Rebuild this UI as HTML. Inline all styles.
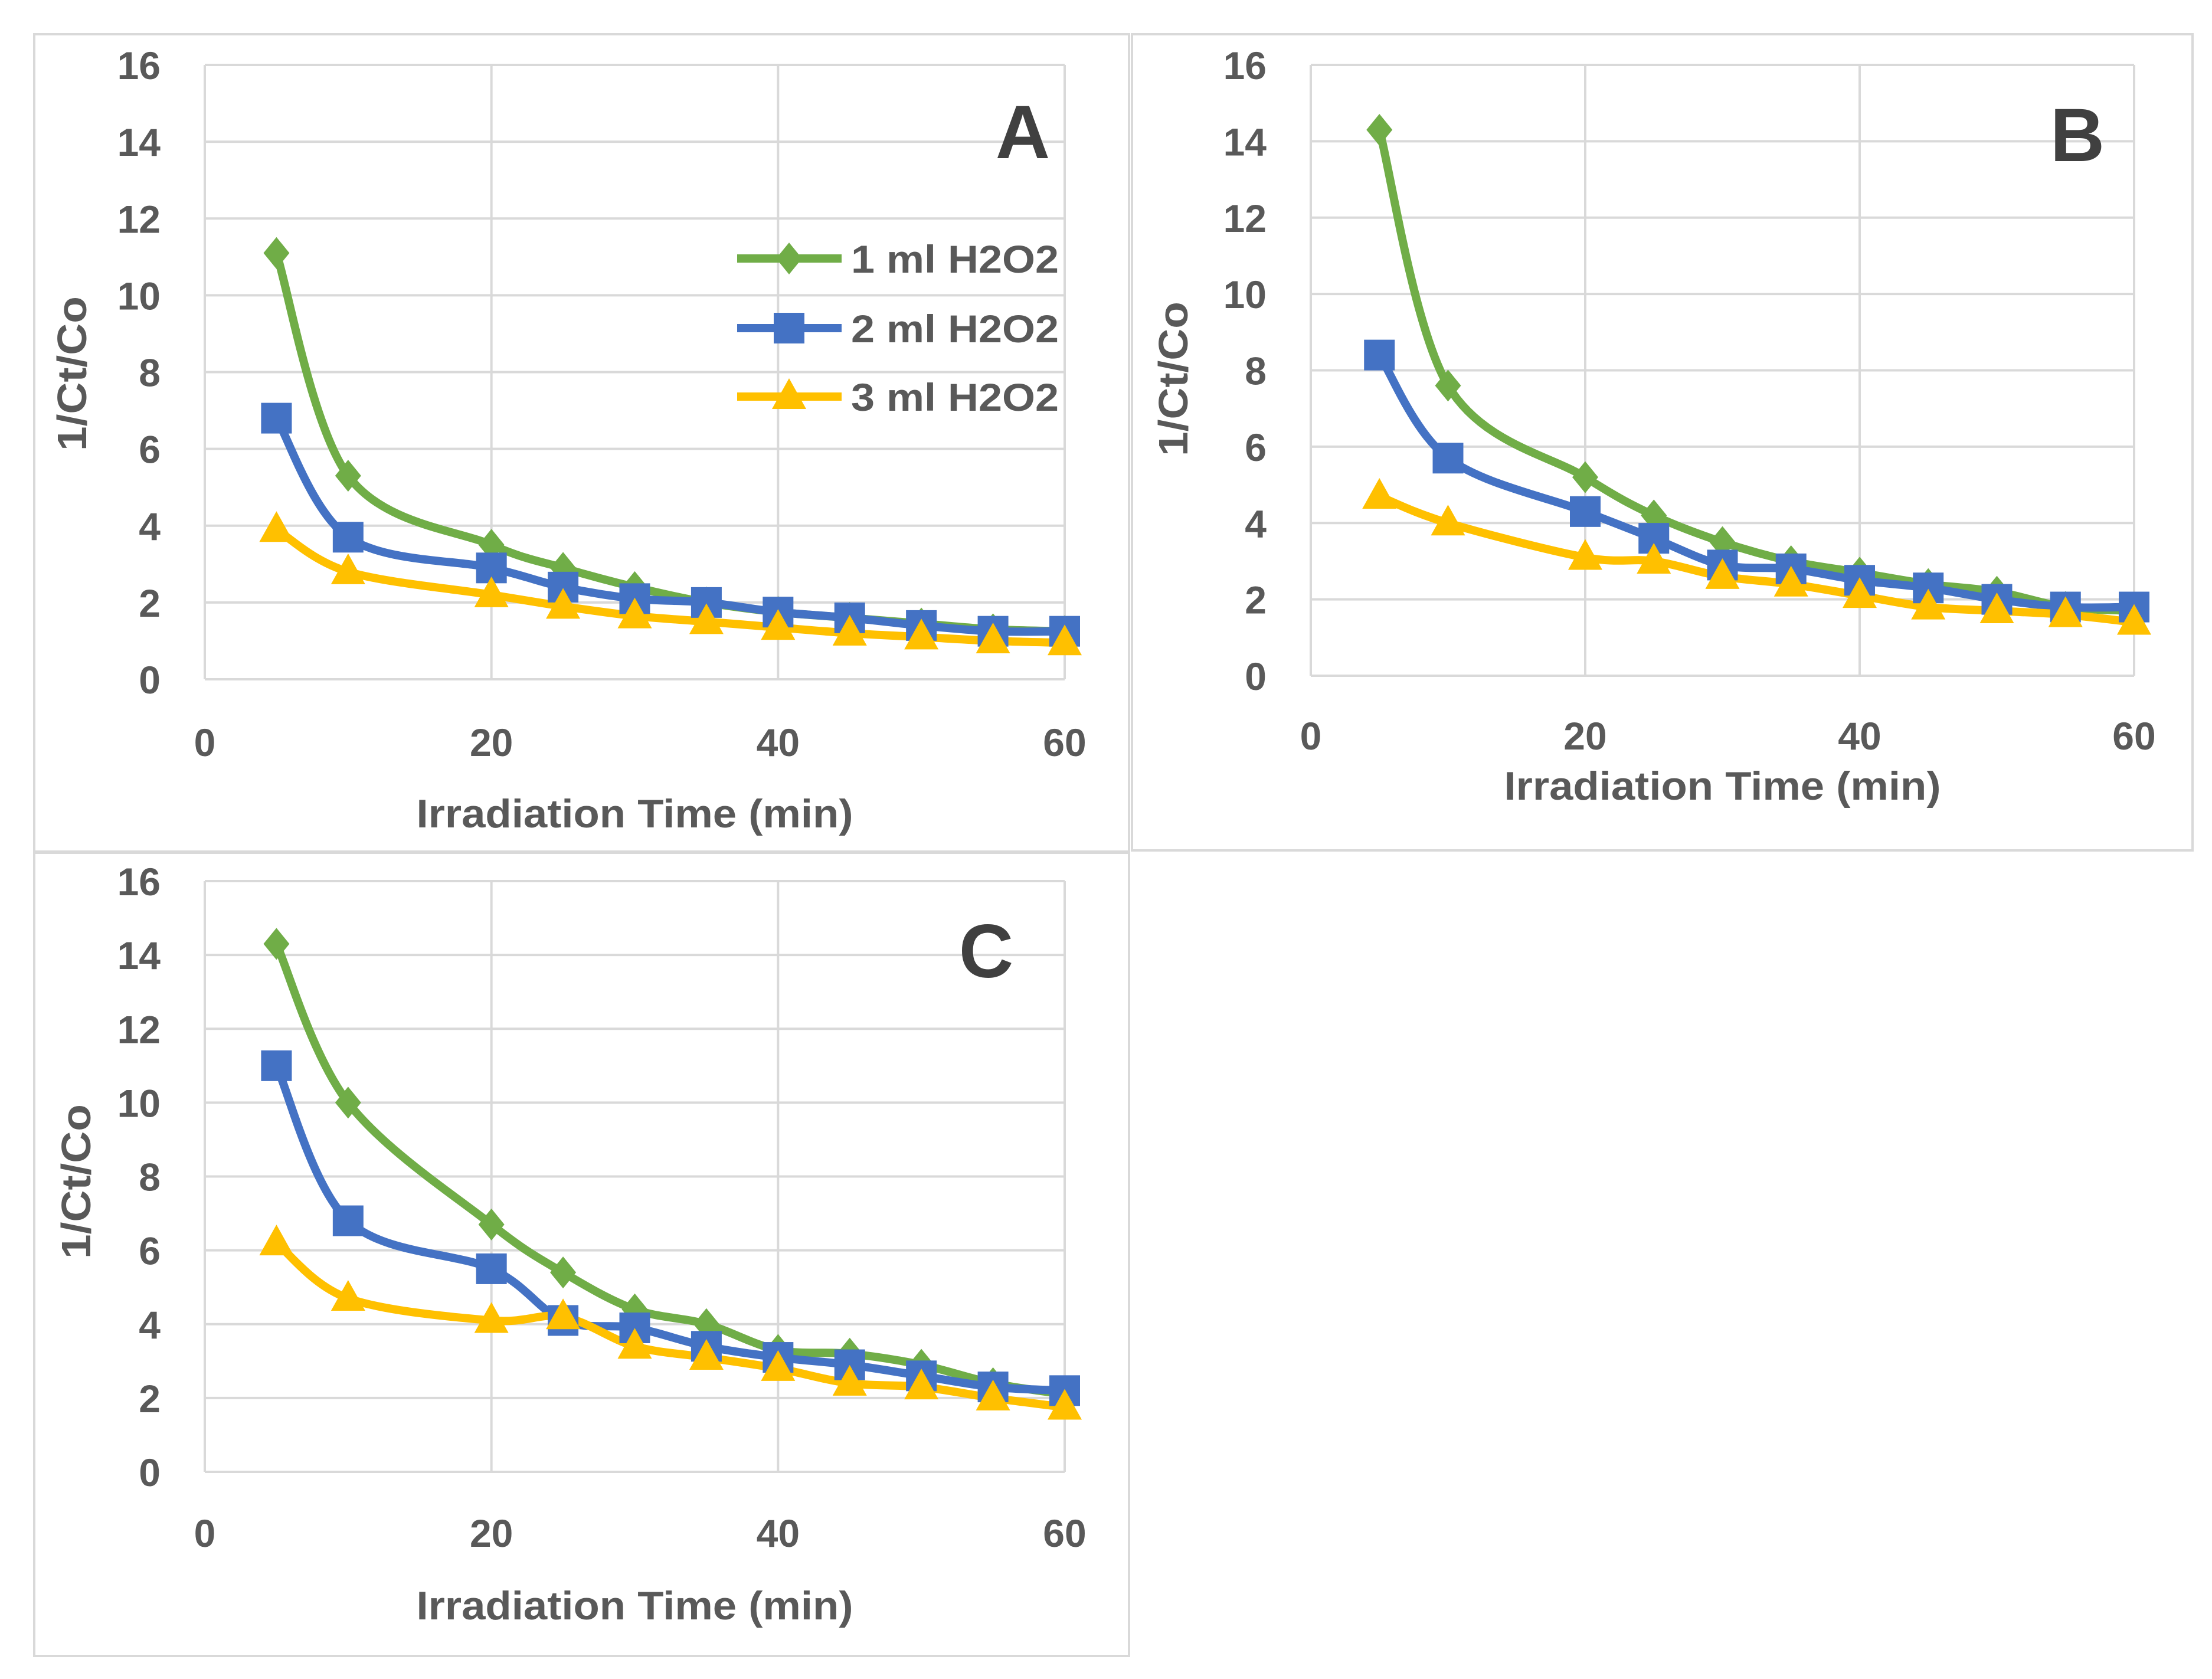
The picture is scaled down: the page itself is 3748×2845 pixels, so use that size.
<!DOCTYPE html>
<html><head><meta charset="utf-8"><style>
html,body{margin:0;padding:0;background:#fff;width:3748px;height:2845px;overflow:hidden}
svg{display:block}
text{font-family:"Liberation Sans",sans-serif;fill:#595959}
</style></head><body>
<svg id="fig" width="3748" height="2845" viewBox="0 0 3748 2845" xmlns="http://www.w3.org/2000/svg">
<rect x="0" y="0" width="3748" height="2845" fill="#fff"/>
</svg>
<script>
const xValues = [5,10,20,25,30,35,40,45,50,55,60];
const xTicks = [0,20,40,60];
const yTicks = [0,2,4,6,8,10,12,14,16];
const seriesNames = ["1 ml H2O2","2 ml H2O2","3 ml H2O2"];
const aGreen = [11.1,5.3,3.5,2.9,2.4,2.0,1.75,1.6,1.45,1.3,1.25];
const aBlue = [6.8,3.7,2.9,2.4,2.1,2.0,1.75,1.6,1.4,1.25,1.25];
const aYellow = [3.9,2.8,2.2,1.9,1.65,1.5,1.35,1.2,1.1,1.0,0.95];
const bGreen = [14.3,7.6,5.2,4.2,3.5,3.0,2.7,2.4,2.2,1.8,1.7];
const bBlue = [8.4,5.7,4.3,3.6,2.9,2.8,2.5,2.3,2.0,1.8,1.8];
const bYellow = [4.7,4.0,3.1,3.0,2.6,2.4,2.1,1.8,1.7,1.6,1.4];
const cGreen = [14.3,10.0,6.7,5.4,4.4,4.0,3.3,3.2,2.9,2.4,2.1];
const cBlue = [11.0,6.8,5.5,4.1,3.9,3.4,3.1,2.9,2.6,2.3,2.2];
const cYellow = [6.2,4.7,4.1,4.2,3.4,3.1,2.8,2.4,2.3,2.0,1.75];

const NS="http://www.w3.org/2000/svg";
const svg=document.getElementById('fig');
const colors=["#70AD47","#4472C4","#FFC000"];
function mk(tag,attrs,parent){const e=document.createElementNS(NS,tag);for(const k in attrs)e.setAttribute(k,attrs[k]);(parent||svg).appendChild(e);return e;}

function marker(g,kind,cx,cy,color){
  let e;
  if(kind===0){e=mk('polygon',{points:`${cx},${cy-27} ${cx+22},${cy} ${cx},${cy+27} ${cx-22},${cy}`,fill:color},g);}
  else if(kind===1){e=mk('rect',{x:cx-26,y:cy-26,width:52,height:52,fill:color},g);}
  else {e=mk('polygon',{points:`${cx},${cy-31} ${cx+29},${cy+21} ${cx-29},${cy+21}`,fill:color},g);}
  return e;
}
function smooth(pts){
  let d=`M${pts[0][0]},${pts[0][1]}`;
  for(let i=0;i<pts.length-1;i++){
    const p0=pts[Math.max(0,i-1)],p1=pts[i],p2=pts[i+1],p3=pts[Math.min(pts.length-1,i+2)];
    const t=1/6;
    d+=` C${p1[0]+(p2[0]-p0[0])*t},${p1[1]+(p2[1]-p0[1])*t} ${p2[0]-(p3[0]-p1[0])*t},${p2[1]-(p3[1]-p1[1])*t} ${p2[0]},${p2[1]}`;
  }
  return d;
}

function panel(P){
  const g=mk('g',{});
  
  
  const fr=mk('rect',{x:P.fx,y:P.fy,width:P.fw,height:P.fh,fill:'none',stroke:'#d9d9d9','stroke-width':4},g);
  
  
  const X=v=>P.l+(v-0)/(60-0)*(P.r-P.l);
  const Y=v=>P.b-(v-0)/(16-0)*(P.b-P.t);
  yTicks.forEach(v=>{
    const ln=mk('line',{x1:P.l,x2:P.r,y1:Y(v),y2:Y(v),stroke:'#d9d9d9','stroke-width':4},g);
    
    
    const t=mk('text',{x:P.l-75,y:Y(v)+24,'text-anchor':'end','font-size':66,'font-weight':'bold'},g);
    t.textContent=v;
    
    
  });
  xTicks.forEach(v=>{
    const ln=mk('line',{x1:X(v),x2:X(v),y1:P.t,y2:P.b,stroke:'#d9d9d9','stroke-width':4},g);
    
    
    const t=mk('text',{x:X(v),y:P.xly+24,'text-anchor':'middle','font-size':66,'font-weight':'bold'},g);
    t.textContent=v;
    
    
  });
  const xt=mk('text',{x:(P.l+P.r)/2,y:P.xty+24,'text-anchor':'middle','font-size':68,'font-weight':'bold',textLength:740,lengthAdjust:'spacingAndGlyphs'},g);
  xt.textContent='Irradiation Time (min)';
  
  
  const yt=mk('text',{x:0,y:0,'text-anchor':'middle','font-size':70,'font-weight':'bold',textLength:262,lengthAdjust:'spacingAndGlyphs',transform:`translate(${P.ytx+24},${P.yty}) rotate(-90)`},g);
  yt.textContent='1/Ct/Co';
  
  
  const lt=mk('text',{x:P.lx,y:P.ly+45,'text-anchor':'middle','font-size':128,'font-weight':'bold'},g);
  lt.style.fill='#404040';
  lt.textContent=P.id;
  
  
  P.series.forEach((vals,si)=>{
    const pts=xValues.map((x,i)=>[X(x),Y(vals[i])]);
    const p=mk('path',{d:smooth(pts),fill:'none',stroke:colors[si],'stroke-width':14,'stroke-linejoin':'round'},g);
    
    
  });
  P.series.forEach((vals,si)=>{
    xValues.forEach((x,i)=>{
      const m=marker(g,si,X(x),Y(vals[i]),colors[si]);
      
      
    });
  });
  if(P.legend){
    seriesNames.forEach((n,si)=>{
      const yy=[438,556,672][si];
      const ln=mk('line',{x1:1249,x2:1426,y1:yy,y2:yy,stroke:colors[si],'stroke-width':14},g);
      
      
      const m=marker(g,si,1337,yy,colors[si]);
      
      
      const t=mk('text',{x:1442,y:yy+24,'font-size':66,'font-weight':'bold',textLength:352,lengthAdjust:'spacingAndGlyphs'},g);
      t.textContent=n;
      
      
    });
  }
}
panel({id:'A',fx:58,fy:58,fw:1855,fh:1385,l:347,r:1804,t:110,b:1151,xly:1257,xty:1378,ytx:122,yty:633,lx:1733,ly:223,legend:true,series:[aGreen,aBlue,aYellow]});
panel({id:'B',fx:1918,fy:58,fw:1797,fh:1383,l:2221,r:3616,t:110,b:1145,xly:1246,xty:1331,ytx:1988,yty:642,lx:3520,ly:228,legend:false,series:[bGreen,bBlue,bYellow]});
panel({id:'C',fx:58,fy:1445,fw:1855,fh:1361,l:347,r:1804,t:1493,b:2494,xly:2597,xty:2720,ytx:129,yty:2002,lx:1671,ly:1611,legend:false,series:[cGreen,cBlue,cYellow]});
</script>
</body></html>
